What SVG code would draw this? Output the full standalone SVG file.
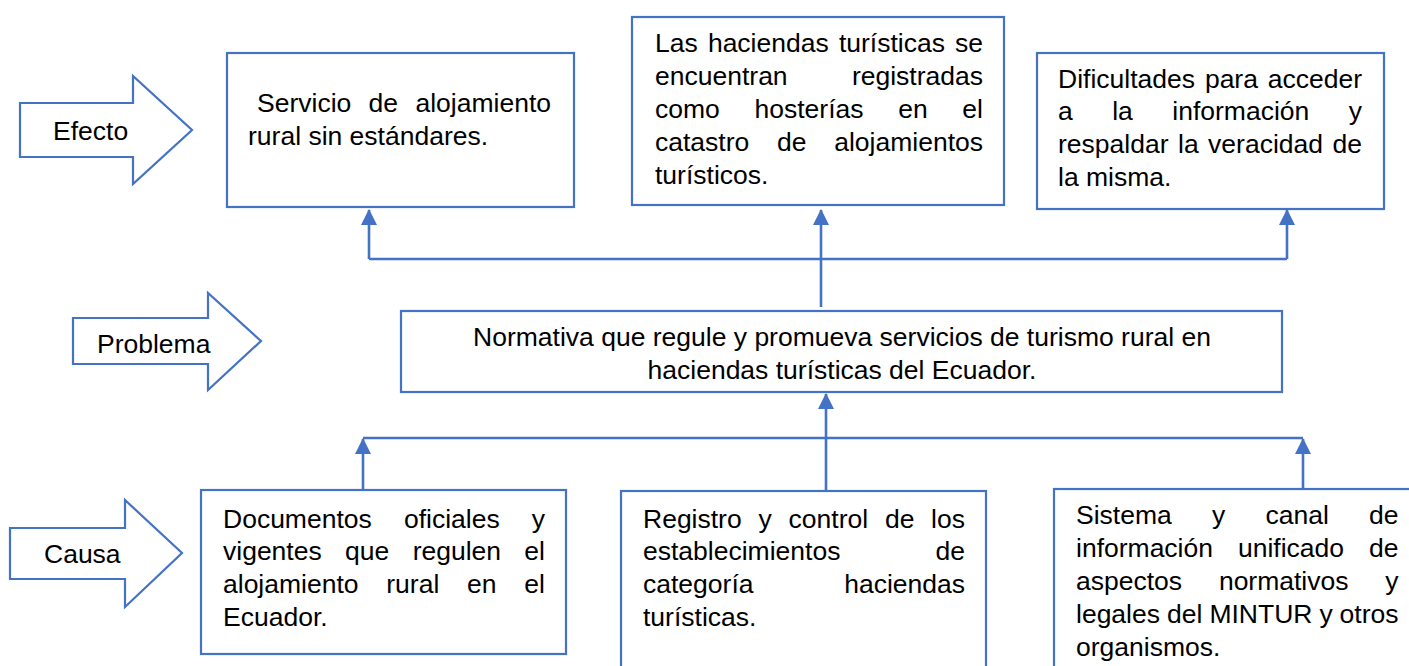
<svg xmlns="http://www.w3.org/2000/svg" width="1409" height="666" viewBox="0 0 1409 666">
<defs>
<style>
.box{fill:#fff;stroke:#4472C4;stroke-width:2.2}
.big{fill:#fff;stroke:#4472C4;stroke-width:2.2;stroke-linejoin:miter}
.t{font-family:"Liberation Sans",Arial,sans-serif;font-size:26.5px;fill:#000}
.e{text-anchor:end}
.c{stroke:#4472C4;stroke-width:2.6;fill:none}
</style>
<marker id="ah" markerUnits="userSpaceOnUse" markerWidth="16" markerHeight="16" viewBox="0 0 16 16" refX="15" refY="8" orient="auto">
<path d="M0,0 L16,8 L0,16 Z" fill="#4472C4"/>
</marker>
</defs>
<rect width="1409" height="666" fill="#fff"/>

<g id="efecto">
<polygon class="big" points="20,103 133,103 133,76 192,130 133,184 133,157 20,157"/>
<text class="t" x="53" y="140">Efecto</text>
</g>
<g id="problema">
<polygon class="big" points="73,318 208,318 208,293 261,341 208,390 208,364 73,364"/>
<text class="t" x="97" y="352.5">Problema</text>
</g>
<g id="causa">
<polygon class="big" points="10,528 125,528 125,500 182,553 125,607 125,579 10,579"/>
<text class="t" x="44" y="562.5">Causa</text>
</g>

<g id="connectors">
<path class="c" d="M369,259 H1287"/>
<path class="c" d="M369,259 V210" marker-end="url(#ah)"/>
<path class="c" d="M1287,259 V210" marker-end="url(#ah)"/>
<path class="c" d="M821,307 V210" marker-end="url(#ah)"/>
<path class="c" d="M363,438 H1303"/>
<path class="c" d="M363,490 V439" marker-end="url(#ah)"/>
<path class="c" d="M1303,489 V439" marker-end="url(#ah)"/>
<path class="c" d="M826,491 V394" marker-end="url(#ah)"/>
</g>

<g id="efecto1">
<rect class="box" x="227" y="53" width="347" height="154"/>
<text class="t" y="112"><tspan x="257">Servicio</tspan><tspan x="368.6">de</tspan><tspan class="e" x="551">alojamiento</tspan></text>
<text class="t" x="248" y="145">rural sin estándares.</text>
</g>

<g id="efecto2">
<rect class="box" x="632" y="17" width="372" height="188"/>
<text class="t" y="52.3"><tspan x="655">Las</tspan><tspan x="707.9">haciendas</tspan><tspan x="838.9">turísticas</tspan><tspan class="e" x="983">se</tspan></text>
<text class="t" y="85.1"><tspan x="655">encuentran</tspan><tspan class="e" x="983">registradas</tspan></text>
<text class="t" y="117.9"><tspan x="655">como</tspan><tspan x="754.5">hosterías</tspan><tspan x="898.2">en</tspan><tspan class="e" x="983">el</tspan></text>
<text class="t" y="150.7"><tspan x="655">catastro</tspan><tspan x="777">de</tspan><tspan class="e" x="983">alojamientos</tspan></text>
<text class="t" x="655" y="183.5">turísticos.</text>
</g>

<g id="efecto3">
<rect class="box" x="1037" y="53" width="347" height="156"/>
<text class="t" y="87.5"><tspan x="1058">Dificultades</tspan><tspan x="1204.9">para</tspan><tspan class="e" x="1362">acceder</tspan></text>
<text class="t" y="120.3"><tspan x="1058">a</tspan><tspan x="1112.2">la</tspan><tspan x="1172.3">información</tspan><tspan class="e" x="1362">y</tspan></text>
<text class="t" y="153.1"><tspan x="1058">respaldar</tspan><tspan x="1178">la</tspan><tspan x="1208.1">veracidad</tspan><tspan class="e" x="1362">de</tspan></text>
<text class="t" x="1058" y="185.9">la misma.</text>
</g>

<g id="problema-box">
<rect class="box" x="401" y="311" width="881" height="81"/>
<text class="t" x="842" y="346" text-anchor="middle">Normativa que regule y promueva servicios de turismo rural en</text>
<text class="t" x="842" y="378.8" text-anchor="middle">haciendas turísticas del Ecuador.</text>
</g>

<g id="causa1">
<rect class="box" x="201" y="490" width="365" height="164"/>
<text class="t" y="527.5"><tspan x="223">Documentos</tspan><tspan x="403.9">oficiales</tspan><tspan class="e" x="545">y</tspan></text>
<text class="t" y="560.3"><tspan x="223">vigentes</tspan><tspan x="345.1">que</tspan><tspan x="412.7">regulen</tspan><tspan class="e" x="545">el</tspan></text>
<text class="t" y="593.1"><tspan x="223">alojamiento</tspan><tspan x="386.3">rural</tspan><tspan x="467.1">en</tspan><tspan class="e" x="545">el</tspan></text>
<text class="t" x="223" y="625.9">Ecuador.</text>
</g>

<g id="causa2">
<rect class="box" x="621" y="491" width="365" height="190"/>
<text class="t" y="527.5"><tspan x="643">Registro</tspan><tspan x="758.5">y</tspan><tspan x="788.6">control</tspan><tspan x="884.9">de</tspan><tspan class="e" x="965">los</tspan></text>
<text class="t" y="560.3"><tspan x="643">establecimientos</tspan><tspan class="e" x="965">de</tspan></text>
<text class="t" y="593.1"><tspan x="643">categoría</tspan><tspan class="e" x="965">haciendas</tspan></text>
<text class="t" x="643" y="625.9">turísticas.</text>
</g>

<g id="causa3">
<rect class="box" x="1054" y="489" width="370" height="200"/>
<text class="t" y="524.3"><tspan x="1076">Sistema</tspan><tspan x="1212">y</tspan><tspan x="1265.5">canal</tspan><tspan class="e" x="1398.5">de</tspan></text>
<text class="t" y="557.1"><tspan x="1076">información</tspan><tspan x="1238">unificado</tspan><tspan class="e" x="1398.5">de</tspan></text>
<text class="t" y="589.9"><tspan x="1076">aspectos</tspan><tspan x="1218.9">normativos</tspan><tspan class="e" x="1398.5">y</tspan></text>
<text class="t" y="622.7"><tspan x="1076">legales</tspan><tspan x="1167">del</tspan><tspan x="1209.4">MINTUR</tspan><tspan x="1319.4">y</tspan><tspan class="e" x="1398.5">otros</tspan></text>
<text class="t" x="1076" y="655.5">organismos.</text>
</g>
</svg>
